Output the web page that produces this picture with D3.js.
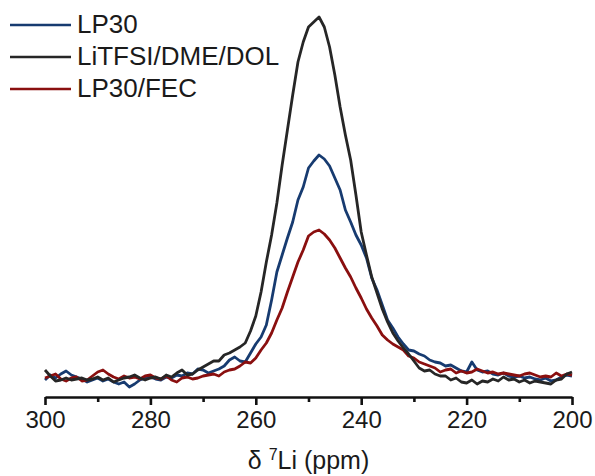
<!DOCTYPE html>
<html lang="en">

<head>
    <meta charset="UTF-8">
    <title>7Li NMR</title>
    <script src="https://d3js.org/d3.v7.min.js"></script>
    <style>
        body {
            margin: 0;
            background: #fff;
        }

        text {
            font-family: "Liberation Sans", Arial, sans-serif;
            fill: #1a1a1a;
        }

        .spectrum {
            fill: none;
            stroke-width: 2.8px;
            stroke-linejoin: round;
        }
    </style>
</head>

<body>
    <div id="chart"></div>

    <script>
        // chemical shift (ppm), 1 ppm steps from 300 down to 200
        const shifts = d3.range(300, 199, -1);

        // intensities (a.u.), same order as shifts
        const lp30 = [
            -2, 3, 0, 4, 7, 3, 1, -1, -4, -2,
            0, -3, -1, -4, -6, -4, -9, -6, -2, 0,
            1, -1, -2, 1, 0, 3, 2, 5, 4, 9,
            8, 5, 7, 9, 12, 18, 21, 17, 16, 25,
            34, 41, 53, 78, 106, 123, 140, 156, 178, 191,
            210, 217, 223, 219, 212, 200, 188, 168, 156, 143,
            133, 120, 100, 88, 73, 58, 50, 41, 34, 28,
            27, 24, 22, 18, 16, 15, 12, 13, 10, 7,
            6, 16, 8, 6, 7, 4, 3, 5, 2, 1,
            2, 0, 1, -1, -2, 0, -3, -2, 1, 3,
            2
        ];
        const litfsi = [
            8, 2, -3, -2, 0, -2, -1, 0, -2, -1,
            1, -2, 0, -4, -2, 0, 1, 3, 0, -2,
            0, 1, -1, 3, 1, 5, 8, 3, 4, 8,
            11, 14, 17, 17, 23, 25, 28, 31, 35, 47,
            62, 86, 116, 143, 175, 213, 248, 283, 316, 336,
            351, 356, 361, 351, 331, 303, 271, 243, 218, 183,
            146, 123, 101, 85, 69, 56, 45, 37, 30, 24,
            17, 10, 7, 8, 4, 2, 2, -2, 0, -4,
            -5, -2, -6, -3, -4, -1, -3, 1, -2, -1,
            -4, -2, -5, -3, -4, -5, -6, -2, -1, 4,
            6
        ];
        const lp30fec = [
            0, 2, 4, -1, -3, 0, 1, -3, -2, 2,
            6, 8, 4, 1, -1, 2, 0, 1, -1, 2,
            3, 0, -1, 2, -2, -4, 0, 1, -1, 0,
            2, 3, 4, 2, 6, 8, 9, 12, 16, 15,
            20, 28, 35, 45, 58, 70, 86, 101, 116, 128,
            142, 146, 148, 144, 138, 130, 120, 110, 101, 90,
            80, 69, 60, 52, 43, 38, 34, 31, 28, 22,
            20, 16, 14, 12, 10, 6, 8, 9, 5, 7,
            5, 6, 9, 7, 5, 6, 4, 5, 4, 3,
            2, 4, 5, 3, 1, 2, 1, 5, 2, 4,
            3
        ];

        const seriesNames = ["LP30", "LiTFSI/DME/DOL", "LP30/FEC"];
        const seriesColors = ["#173b70", "#262626", "#8a0f0f"];
        const seriesValues = [lp30, litfsi, lp30fec];

        const majorTicks = [300, 280, 260, 240, 220, 200];
        const minorTicks = [290, 270, 250, 230, 210];

        const width = 595;
        const height = 476;
        const axisY = 397;

        const x = d3.scaleLinear().domain([300, 200]).range([45, 572]);
        const y = d3.scaleLinear().domain([0, 361]).range([378, 17]);

        const svg = d3.select("#chart").append("svg")
            .attr("width", width)
            .attr("height", height);

        const line = d3.line()
            .x((d, i) => x(shifts[i]))
            .y(d => y(d));

        // draw order: blue, red, black on top
        [0, 2, 1].forEach(k => {
            svg.append("path")
                .attr("class", "spectrum")
                .attr("stroke", seriesColors[k])
                .attr("d", line(seriesValues[k]));
        });

        // x axis
        const gx = svg.append("g")
            .attr("transform", `translate(0,${axisY})`)
            .call(d3.axisBottom(x)
                .tickValues(majorTicks)
                .tickSize(8)
                .tickSizeOuter(0)
                .tickPadding(6)
                .tickFormat(d3.format("d")));
        gx.select(".domain").attr("stroke", "#111").attr("stroke-width", 2.6);
        gx.selectAll(".tick line").attr("stroke", "#111").attr("stroke-width", 2.6);
        gx.selectAll(".tick text")
            .attr("font-size", 24)
            .attr("font-family", "'Liberation Sans', Arial, sans-serif")
            .attr("fill", "#1a1a1a");

        const gm = svg.append("g")
            .attr("transform", `translate(0,${axisY})`)
            .call(d3.axisBottom(x)
                .tickValues(minorTicks)
                .tickSize(5)
                .tickSizeOuter(0)
                .tickFormat(""));
        gm.select(".domain").remove();
        gm.selectAll(".tick line").attr("stroke", "#111").attr("stroke-width", 2.6);

        // axis title
        const title = svg.append("text")
            .attr("x", 308.5)
            .attr("y", 469)
            .attr("text-anchor", "middle")
            .attr("font-size", 25);
        title.append("tspan").text("\u03b4 ");
        title.append("tspan").attr("font-size", 16).attr("dy", -9).text("7");
        title.append("tspan").attr("dy", 9).text("Li (ppm)");

        // legend
        const legend = svg.append("g");
        seriesNames.forEach((name, i) => {
            const ly = 33 + i * 32;
            legend.append("line")
                .attr("x1", 10).attr("x2", 71)
                .attr("y1", ly - 8).attr("y2", ly - 8)
                .attr("stroke", seriesColors[i])
                .attr("stroke-width", 2.6);
            legend.append("text")
                .attr("x", 77)
                .attr("y", ly)
                .attr("font-size", 26)
                .text(name);
        });
    </script>
</body>

</html>
